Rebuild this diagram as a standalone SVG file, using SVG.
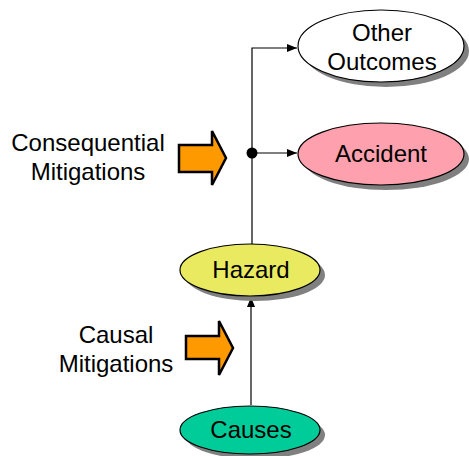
<svg xmlns="http://www.w3.org/2000/svg" width="469" height="456" viewBox="0 0 469 456">
<style>
.shadow{fill:#808080;stroke:none}
.node{stroke:#000;stroke-width:1.2}
.t{font-family:"Liberation Sans",Arial,sans-serif;font-size:24px;fill:#000;text-anchor:middle}
.conn{stroke:#000;stroke-width:1.2;fill:none}
.mit{fill:#FF9900;stroke:#000;stroke-width:2.5;stroke-linejoin:miter}
</style>
<defs>
<marker id="ah" viewBox="0 0 10 10" refX="10" refY="5" markerWidth="10" markerHeight="10" markerUnits="userSpaceOnUse" orient="auto">
<path d="M0,1 L10,5 L0,9 Z" fill="#000"/>
</marker>
</defs>
<rect width="469" height="456" fill="#fff"/>
<g id="connectors">
<polyline class="conn" points="252,247 252,48 297,48" marker-end="url(#ah)"/>
<line class="conn" x1="252" y1="153" x2="297" y2="153" marker-end="url(#ah)"/>
<circle cx="252" cy="153" r="5.5" fill="#000"/>
<line class="conn" x1="251" y1="405" x2="251" y2="297" marker-end="url(#ah)"/>
</g>
<g id="other-outcomes">
<ellipse class="shadow" cx="386" cy="51" rx="83" ry="36"/>
<ellipse class="node" cx="381" cy="46" rx="83" ry="36" fill="#fff"/>
<text class="t" x="382" y="41">Other</text>
<text class="t" x="382" y="70">Outcomes</text>
</g>
<g id="accident">
<ellipse class="shadow" cx="386" cy="159" rx="83" ry="31"/>
<ellipse class="node" cx="381" cy="154" rx="83" ry="31" fill="#FFA0AE"/>
<text class="t" x="381" y="162">Accident</text>
</g>
<g id="hazard">
<ellipse class="shadow" cx="255" cy="275" rx="70" ry="26"/>
<ellipse class="node" cx="250" cy="270" rx="70" ry="26" fill="#EAEA60"/>
<text class="t" x="251" y="278">Hazard</text>
</g>
<g id="causes">
<ellipse class="shadow" cx="255" cy="435" rx="70" ry="24"/>
<ellipse class="node" cx="250" cy="430" rx="70" ry="24" fill="#00CC99"/>
<text class="t" x="251" y="438">Causes</text>
</g>
<g id="consequential-mitigations">
<text class="t" x="88" y="151">Consequential</text>
<text class="t" x="88" y="180">Mitigations</text>
<polygon class="mit" points="179,145 212,145 212,131 226,158 212,185 212,172 179,172"/>
</g>
<g id="causal-mitigations">
<text class="t" x="116" y="343">Causal</text>
<text class="t" x="116" y="372">Mitigations</text>
<polygon class="mit" points="186,336 219,336 219,321 233,348 219,375 219,359 186,359"/>
</g>
</svg>
